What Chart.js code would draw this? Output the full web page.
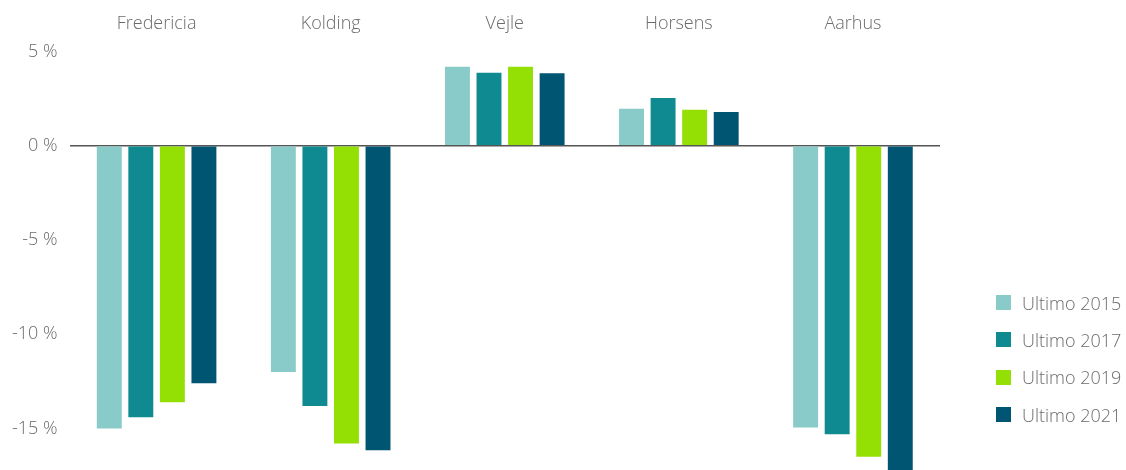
<!DOCTYPE html>
<html>
<head>
<meta charset="utf-8">
<script src="https://cdn.jsdelivr.net/npm/chart.js@4"></script>
<style>
  body { margin: 0; background: #fff; overflow: hidden; }
  #wrap { position: relative; width: 1126px; height: 470px; }
  #legend { position: absolute; left: 996px; top: 284px; font-family: "Open Sans", sans-serif; font-weight: 300; font-size: 18px; color: #6b6b6b; }
  #legend div { display: flex; align-items: center; height: 37.3px; }
  #legend span { display: inline-block; width: 15px; height: 15px; margin-right: 11px; }
</style>
</head>
<body>
<div id="wrap">
  <canvas id="chart" width="1126" height="470"></canvas>
  <div id="legend"></div>
</div>
<script>
// data
const cities  = ['Fredericia', 'Kolding', 'Vejle', 'Horsens', 'Aarhus'];
const labels  = ['Ultimo 2015', 'Ultimo 2017', 'Ultimo 2019', 'Ultimo 2021'];
const u2015   = [-15.0, -12.0, 4.2, 1.96, -14.95];
const u2017   = [-14.4, -13.8, 3.88, 2.54, -15.3];
const u2019   = [-13.6, -15.8, 4.19, 1.91, -16.5];
const u2021   = [-12.6, -16.15, 3.85, 1.79, -17.6];
const yTicks  = [-15, -10, -5, 0, 5];
const colors  = ['#88cbc8', '#0f8a91', '#94df04', '#005572'];

const series = [u2015, u2017, u2019, u2021];
const txt = '#6b6b6b';
const font = { family: '"Open Sans", sans-serif', size: 18, weight: 300 };

const ctx = document.getElementById('chart').getContext('2d');
new Chart(ctx, {
  type: 'bar',
  data: {
    labels: cities,
    datasets: series.map((d, i) => ({
      label: labels[i],
      data: d,
      backgroundColor: colors[i],
      categoryPercentage: 0.725,
      barPercentage: 0.79
    }))
  },
  options: {
    responsive: false,
    animation: false,
    layout: { padding: { top: 13, left: 0, right: 186, bottom: 0 } },
    plugins: {
      legend: { display: false },
      tooltip: { enabled: false }
    },
    scales: {
      x: {
        position: 'top',
        grid: { display: false, drawTicks: false },
        border: { display: false },
        ticks: { color: txt, font, padding: 0 }
      },
      y: {
        min: -17.2,
        max: 5.9,
        afterBuildTicks: s => { s.ticks = yTicks.map(v => ({ value: v })); },
        afterFit: s => { s.paddingBottom = 0; },
        grid: {
          drawTicks: false,
          color: c => c.tick && c.tick.value === 0 ? '#555' : 'rgba(0,0,0,0)',
          lineWidth: 1.5
        },
        border: { display: false },
        ticks: { color: txt, font, padding: 12, callback: v => v + ' %' }
      }
    }
  }
});

// legend
const lg = document.getElementById('legend');
labels.forEach((l, i) => {
  const row = document.createElement('div');
  row.innerHTML = `<span style="background:${colors[i]}"></span>${l}`;
  lg.appendChild(row);
});
</script>
</body>
</html>
